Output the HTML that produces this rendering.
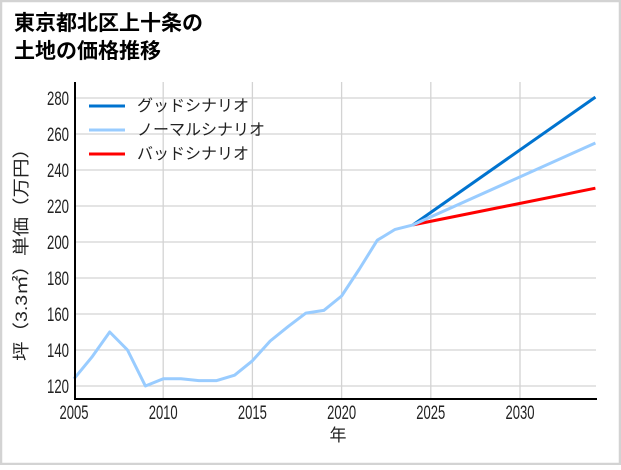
<!DOCTYPE html>
<html><head><meta charset="utf-8"><style>
html,body{margin:0;padding:0;background:#fff}
body{width:621px;height:465px;overflow:hidden}
</style></head><body>
<svg width="621" height="465" xmlns="http://www.w3.org/2000/svg" font-family="'Liberation Sans','Noto Sans CJK JP',sans-serif">
<rect x="1" y="1" width="619" height="463" fill="#fff" stroke="#d3d3d3" stroke-width="2.5"/>
<text x="14" y="30" font-size="21" font-weight="bold">東京都北区上十条の</text>
<text x="14" y="58" font-size="21" font-weight="bold">土地の価格推移</text>
<g stroke="#d3d3d3" stroke-width="1.3">
<line x1="163.2" y1="82" x2="163.2" y2="399"/><line x1="252.4" y1="82" x2="252.4" y2="399"/><line x1="341.6" y1="82" x2="341.6" y2="399"/><line x1="430.8" y1="82" x2="430.8" y2="399"/><line x1="520" y1="82" x2="520" y2="399"/>
<line x1="75" y1="98" x2="596" y2="98"/><line x1="75" y1="134" x2="596" y2="134"/><line x1="75" y1="170" x2="596" y2="170"/><line x1="75" y1="206" x2="596" y2="206"/><line x1="75" y1="242" x2="596" y2="242"/><line x1="75" y1="278" x2="596" y2="278"/><line x1="75" y1="314" x2="596" y2="314"/><line x1="75" y1="350" x2="596" y2="350"/><line x1="75" y1="386" x2="596" y2="386"/>
</g>
<g font-size="19" fill="#222">
<text x="47" y="105" textLength="22" lengthAdjust="spacingAndGlyphs">280</text><text x="47" y="141" textLength="22" lengthAdjust="spacingAndGlyphs">260</text><text x="47" y="177" textLength="22" lengthAdjust="spacingAndGlyphs">240</text><text x="47" y="213" textLength="22" lengthAdjust="spacingAndGlyphs">220</text><text x="47" y="249" textLength="22" lengthAdjust="spacingAndGlyphs">200</text><text x="47" y="285" textLength="22" lengthAdjust="spacingAndGlyphs">180</text><text x="47" y="321" textLength="22" lengthAdjust="spacingAndGlyphs">160</text><text x="47" y="357" textLength="22" lengthAdjust="spacingAndGlyphs">140</text><text x="47" y="393" textLength="22" lengthAdjust="spacingAndGlyphs">120</text>
</g>
<g font-size="19" fill="#222">
<text x="59.5" y="419" textLength="29" lengthAdjust="spacingAndGlyphs">2005</text><text x="148.7" y="419" textLength="29" lengthAdjust="spacingAndGlyphs">2010</text><text x="237.9" y="419" textLength="29" lengthAdjust="spacingAndGlyphs">2015</text><text x="327.1" y="419" textLength="29" lengthAdjust="spacingAndGlyphs">2020</text><text x="416.3" y="419" textLength="29" lengthAdjust="spacingAndGlyphs">2025</text><text x="505.5" y="419" textLength="29" lengthAdjust="spacingAndGlyphs">2030</text>
</g>
<text x="338" y="441" font-size="17" text-anchor="middle" fill="#222">年</text>
<text transform="translate(27,250) rotate(-90)" font-size="17" text-anchor="middle" fill="#222" textLength="222" lengthAdjust="spacingAndGlyphs">坪（3.3㎡）単価（万円）</text>
<polyline fill="none" stroke="#0073cf" stroke-width="3" points="413,224.9 595.4,97.1"/>
<polyline fill="none" stroke="#ff0000" stroke-width="3" points="413,224.9 595.4,188.2"/>
<polyline fill="none" stroke="#99ccff" stroke-width="3" stroke-linejoin="round" points="74,378.8 91.8,357.2 109.7,332 127.5,350 145.4,386 163.2,378.8 181,378.8 198.9,380.6 216.7,380.6 234.6,375.2 252.4,360.8 270.2,341 288.1,326.6 305.9,313.1 323.8,310.4 341.6,296 359.4,269 377.3,240.2 395.1,229.4 413,224.9 595.4,143"/>
<line x1="75" y1="82" x2="75" y2="400" stroke="#000" stroke-width="2"/>
<line x1="74" y1="399" x2="597" y2="399" stroke="#000" stroke-width="2"/>
<g stroke-width="3"><line x1="89" y1="106" x2="125" y2="106" stroke="#0073cf"/><line x1="89" y1="130" x2="125" y2="130" stroke="#99ccff"/><line x1="89" y1="154" x2="125" y2="154" stroke="#ff0000"/></g>
<g font-size="16" fill="#222">
<text x="137" y="111">グッドシナリオ</text><text x="137" y="135">ノーマルシナリオ</text><text x="137" y="159">バッドシナリオ</text>
</g>
</svg>
</body></html>
